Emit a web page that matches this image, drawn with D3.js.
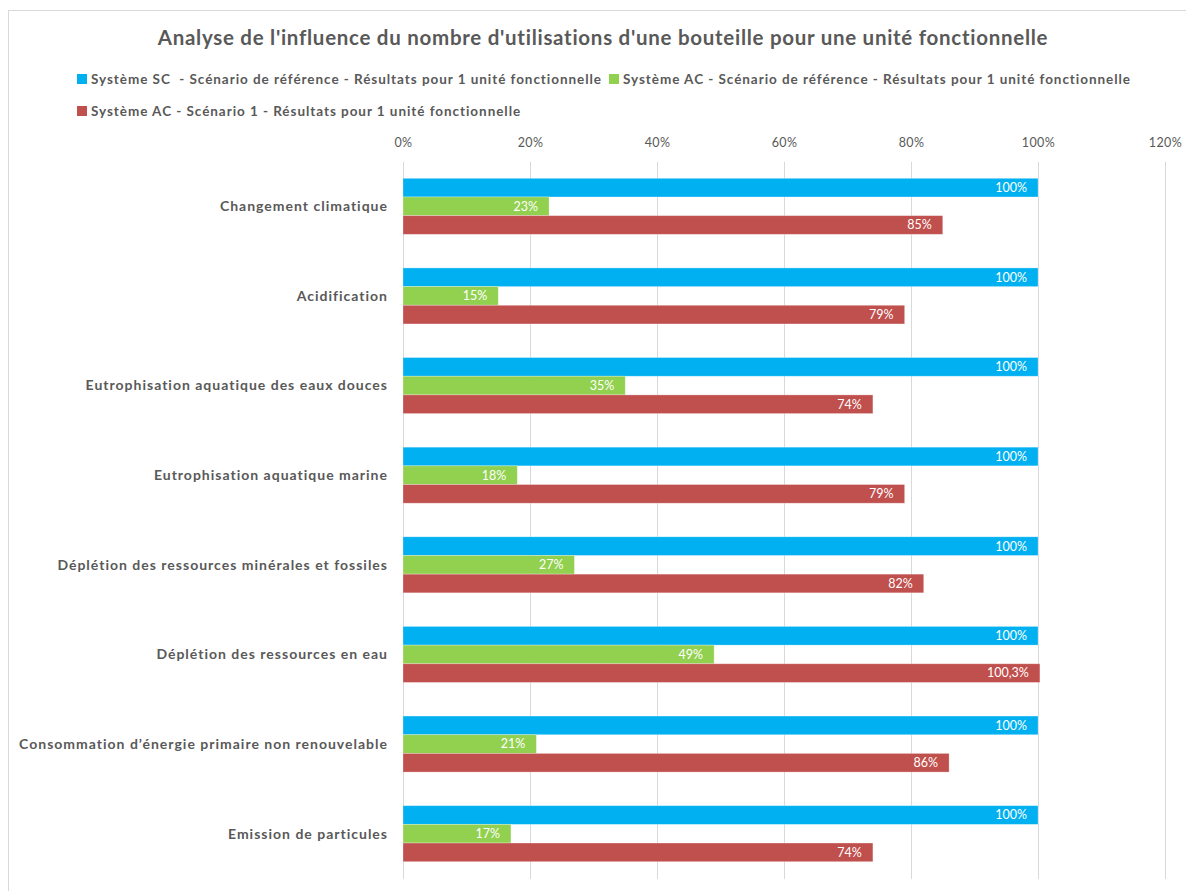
<!DOCTYPE html>
<html>
<head>
<meta charset="utf-8">
<script src="https://cdn.jsdelivr.net/npm/d3@7"></script>
<style>
  html, body { margin: 0; padding: 0; background: #fff; }
  svg { display: block; }
  text { font-family: Lato, "Open Sans", sans-serif; }
</style>
</head>
<body>
<div id="chart"></div>
<script>
// Impact categories (top to bottom)
const categories = [
  "Changement climatique",
  "Acidification",
  "Eutrophisation aquatique des eaux douces",
  "Eutrophisation aquatique marine",
  "Déplétion des ressources minérales et fossiles",
  "Déplétion des ressources en eau",
  "Consommation d\u2019énergie primaire non renouvelable",
  "Emission de particules"
];

// Series names
const seriesNames = [
  "Système SC  - Scénario de référence - Résultats pour 1 unité fonctionnelle",
  "Système AC - Scénario de référence - Résultats pour 1 unité fonctionnelle",
  "Système AC - Scénario 1 - Résultats pour 1 unité fonctionnelle"
];

// Values in % of the SC reference system
const scReference = [100, 100, 100, 100, 100, 100, 100, 100];
const acReference = [23, 15, 35, 18, 27, 49, 21, 17];
const acScenario1 = [85, 79, 74, 79, 82, 100.3, 86, 74];

// Axis ticks
const xTicks = [0, 20, 40, 60, 80, 100, 120];

const colors = ["#00B0F0", "#92D050", "#C0504D"];
const seriesValues = [scReference, acReference, acScenario1];

const W = 1186, H = 891;
const margin = { left: 403, right: 21, top: 161.5, bottom: 12.5 };

const svg = d3.select("#chart").append("svg")
  .attr("width", W).attr("height", H);

// chart area frame
svg.append("rect")
  .attr("x", 8.5).attr("y", 10.5)
  .attr("width", 1300).attr("height", 1000)
  .attr("fill", "#fff").attr("stroke", "#d9d9d9").attr("stroke-width", 1);

// Title
svg.append("text")
  .attr("x", 603).attr("y", 45)
  .attr("text-anchor", "middle")
  .attr("font-size", 20.5).attr("font-weight", "bold")
  .attr("letter-spacing", 0.72)
  .attr("fill", "#595959")
  .text("Analyse de l'influence du nombre d'utilisations d'une bouteille pour une unité fonctionnelle");

// Legend
const legendPos = [
  { x: 77, y: 74 },
  { x: 609, y: 74 },
  { x: 77, y: 106 }
];
const legend = svg.append("g").attr("class", "legend");
seriesNames.forEach((name, i) => {
  const g = legend.append("g").attr("transform", `translate(${legendPos[i].x},${legendPos[i].y})`);
  g.append("rect").attr("width", 10).attr("height", 10).attr("fill", colors[i]);
  g.append("text")
    .attr("x", 14).attr("y", 5)
    .attr("dy", "0.35em")
    .attr("font-size", 13.5).attr("font-weight", "bold")
    .attr("letter-spacing", 0.95)
    .attr("fill", "#595959")
    .attr("xml:space", "preserve")
    .style("white-space", "pre")
    .text(name);
});

// Scales
const x = d3.scaleLinear().domain([0, 120]).range([margin.left, W - margin.right]);
const y0 = d3.scaleBand().domain(categories)
  .range([margin.top, H - margin.bottom])
  .paddingInner(0.375).paddingOuter(0.1875);
const y1 = d3.scaleBand().domain([0, 1, 2]).range([0, y0.bandwidth()]);

// Gridlines
svg.append("g").selectAll("line").data(xTicks).join("line")
  .attr("x1", d => x(d)).attr("x2", d => x(d))
  .attr("y1", margin.top).attr("y2", H - margin.bottom)
  .attr("stroke", "#d9d9d9").attr("stroke-width", 1)
  .attr("shape-rendering", "crispEdges");

// Top axis labels
const xAxis = d3.axisTop(x).tickValues(xTicks).tickSize(0).tickPadding(0)
  .tickFormat(d => d + "%");
svg.append("g")
  .attr("transform", `translate(0,147)`)
  .call(xAxis)
  .call(g => g.select(".domain").remove())
  .call(g => g.selectAll("text")
    .attr("font-family", "Lato, sans-serif")
    .attr("font-size", 12.5).attr("letter-spacing", 0.4).attr("fill", "#595959"));

// Category labels
svg.append("g").selectAll("text").data(categories).join("text")
  .attr("x", 388)
  .attr("y", d => y0(d) + y0.bandwidth() / 2)
  .attr("dy", "0.35em")
  .attr("text-anchor", "end")
  .attr("font-size", 14).attr("font-weight", "bold")
  .attr("letter-spacing", 1)
  .attr("fill", "#595959")
  .text(d => d);

// Bars
const fmt = v => (Number.isInteger(v) ? v : String(v).replace(".", ",")) + "%";
const groups = svg.append("g").selectAll("g").data(categories).join("g")
  .attr("transform", d => `translate(0,${y0(d)})`);

groups.each(function(cat, ci) {
  const g = d3.select(this);
  seriesValues.forEach((vals, si) => {
    const v = vals[ci];
    g.append("rect")
      .attr("x", x(0))
      .attr("y", y1(si))
      .attr("width", x(v) - x(0))
      .attr("height", y1.bandwidth())
      .attr("fill", colors[si])
      .attr("stroke", "#fff").attr("stroke-opacity", 0.35).attr("stroke-width", 0.8);
    g.append("text")
      .attr("x", x(v) - 11)
      .attr("y", y1(si) + y1.bandwidth() / 2)
      .attr("dy", "0.35em")
      .attr("text-anchor", "end")
      .attr("font-size", 12.5)
      .attr("fill", "#fff")
      .text(fmt(v));
  });
});
</script>
</body>
</html>
